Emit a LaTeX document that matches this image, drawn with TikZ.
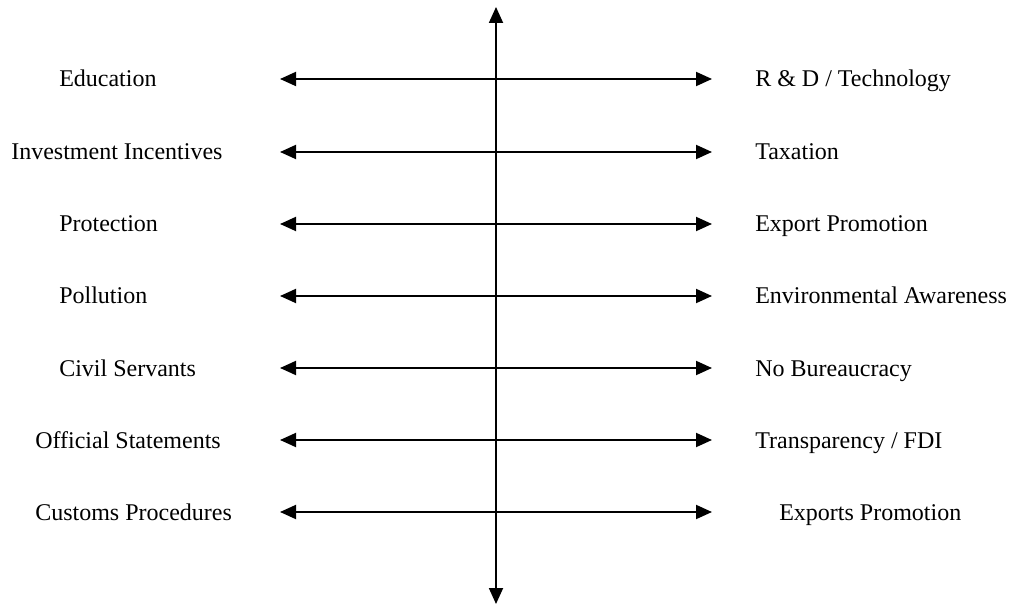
\documentclass[tikz,border=0pt]{standalone}
\usepackage{fontspec}
\setmainfont{Liberation Serif}
\usetikzlibrary{arrows.meta}
\tikzset{
  lbl/.style={anchor=base west, inner sep=0pt, font=\fontsize{18pt}{20pt}\selectfont},
  biarrow/.style={line width=1.4pt, {Triangle[length=12pt,width=10.5pt]}-{Triangle[length=12pt,width=10.5pt]}},
}
\begin{document}
\begin{tikzpicture}[x=0.75pt,y=-0.75pt]
\useasboundingbox (0,0) rectangle (1012,605);
% vertical axis
\coordinate (vtop) at (496,7);
\coordinate (vbot) at (496,604);
\draw[biarrow] (vbot) -- (vtop);
% rows
\foreach \i/\y/\lx/\ltext/\rx/\rtext in {
  1/79/59/Education/755/{R \& D / Technology},
  2/152/11/Investment Incentives/755/Taxation,
  3/224/59/Protection/755/Export Promotion,
  4/296/59/Pollution/755/Environmental Awareness,
  5/368/59/Civil Servants/755/No Bureaucracy,
  6/440/35/Official Statements/755/{Transparency / FDI},
  7/512/35/Customs Procedures/779/Exports Promotion}{
  \node[lbl] (L\i) at (\lx,\y+8) {\ltext};
  \node[lbl] (R\i) at (\rx,\y+8) {\rtext};
  \coordinate (a\i) at (280,\y);
  \coordinate (b\i) at (712,\y);
  \draw[biarrow] (a\i) -- (b\i);
}
\end{tikzpicture}
\end{document}
